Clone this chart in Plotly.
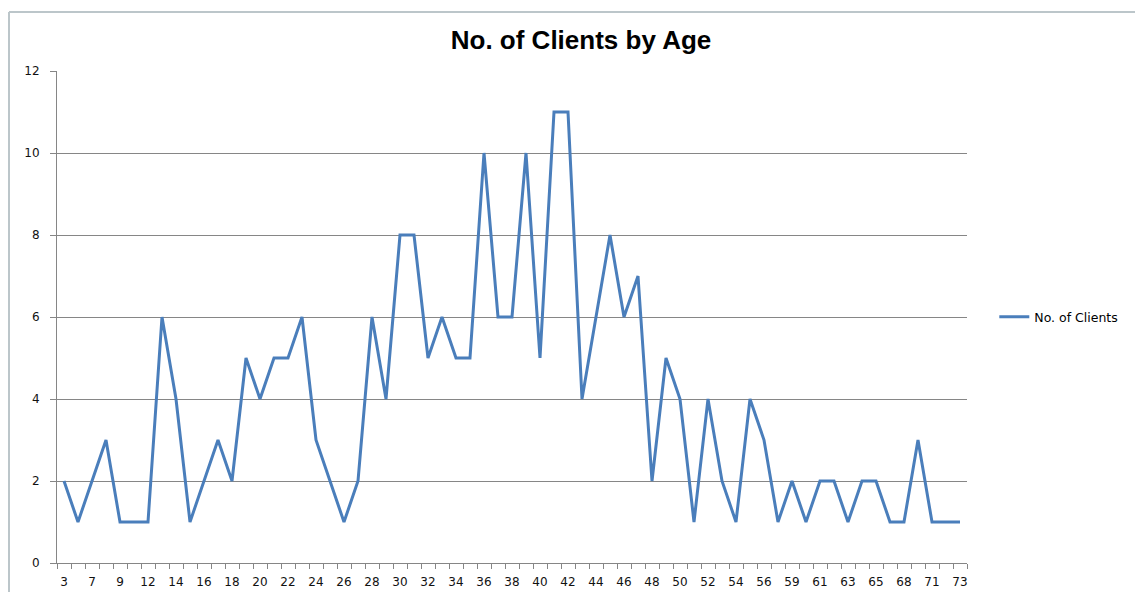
import plotly.graph_objects as go

ages = [3, 5, 7, 8, 9, 11, 12, 13, 14, 15, 16, 17, 18, 19, 20, 21, 22, 23, 24, 25,
        26, 27, 28, 29, 30, 31, 32, 33, 34, 35, 36, 37, 38, 39, 40, 41, 42, 43, 44, 45,
        46, 47, 48, 49, 50, 51, 52, 53, 54, 55, 56, 57, 59, 60, 61, 62, 63, 64, 65, 66,
        68, 69, 71, 72, 73]
clients = [2, 1, 2, 3, 1, 1, 1, 6, 4, 1,
           2, 3, 2, 5, 4, 5, 5, 6, 3, 2,
           1, 2, 6, 4, 8, 8, 5, 6, 5, 5,
           10, 6, 6, 10, 5, 11, 11, 4, 6, 8,
           6, 7, 2, 5, 4, 1, 4, 2, 1, 4,
           3, 1, 2, 1, 2, 2, 1, 2, 2, 1,
           1, 3, 1, 1, 1]
y_ticks = [0, 2, 4, 6, 8, 10, 12]

idx = list(range(len(ages)))
label_idx = idx[::2]
label_text = [str(ages[i]) for i in label_idx]

W, H = 1143, 595
L, T, PW, PH = 49, 63, 910, 492

fig = go.Figure()
fig.add_trace(go.Scatter(
    x=idx, y=clients, mode="lines", name="No. of Clients",
    line=dict(color="#4A7EBB", width=3),
))

fig.update_layout(
    width=W, height=H,
    margin=dict(l=L, r=W - L - PW, t=T, b=H - T - PH),
    paper_bgcolor="white", plot_bgcolor="white",
    title=dict(text="<b>No. of Clients by Age</b>", x=573 / W, xref="container", xanchor="center",
               y=1 - 32 / H, yref="container", yanchor="middle",
               font=dict(family="Liberation Sans Narrow, Arial Narrow, sans-serif", size=26, color="#000000")),
    showlegend=True,
    legend=dict(x=1.03, xanchor="left", y=0.5, yanchor="middle",
                font=dict(family="DejaVu Sans, sans-serif", size=12.5, color="#000000"),
                bgcolor="rgba(0,0,0,0)", itemwidth=30),
    font=dict(family="DejaVu Sans, sans-serif", size=12, color="#000000"),
)

fig.update_xaxes(
    range=[-0.5, len(ages) - 0.5],
    tickmode="array", tickvals=label_idx, ticktext=label_text,
    ticks="", showgrid=False, zeroline=False,
    showline=True, linecolor="#868686", linewidth=1,
    tickfont=dict(size=12, color="#111111"), ticklabelstandoff=8,
    minor=dict(tickmode="linear", tick0=-0.5, dtick=1, ticks="outside",
               ticklen=5, tickcolor="#868686", tickwidth=1, showgrid=False),
    fixedrange=True,
)
fig.update_yaxes(
    range=[0, 12], tickmode="array", tickvals=y_ticks,
    ticks="outside", ticklen=6, tickcolor="#868686",
    showgrid=True, gridcolor="#868686", gridwidth=1,
    zeroline=False, showline=True, linecolor="#868686", linewidth=1,
    tickfont=dict(size=12, color="#111111"), ticklabelstandoff=8,
    fixedrange=True,
)

# outer chart-area frame (top and left edges visible)
top_y = 1 + (T - 4) / PH
fig.add_shape(type="line", xref="paper", yref="paper",
              x0=(1 - L) / PW, x1=(W - L) / PW, y0=top_y, y1=top_y,
              line=dict(color="#BCC6CA", width=2))
fig.add_shape(type="line", xref="paper", yref="paper",
              x0=(1 - L) / PW, x1=(1 - L) / PW, y0=top_y, y1=1 - (584 - T) / PH,
              line=dict(color="#BCC6CA", width=2))

fig.write_html("out.html")
